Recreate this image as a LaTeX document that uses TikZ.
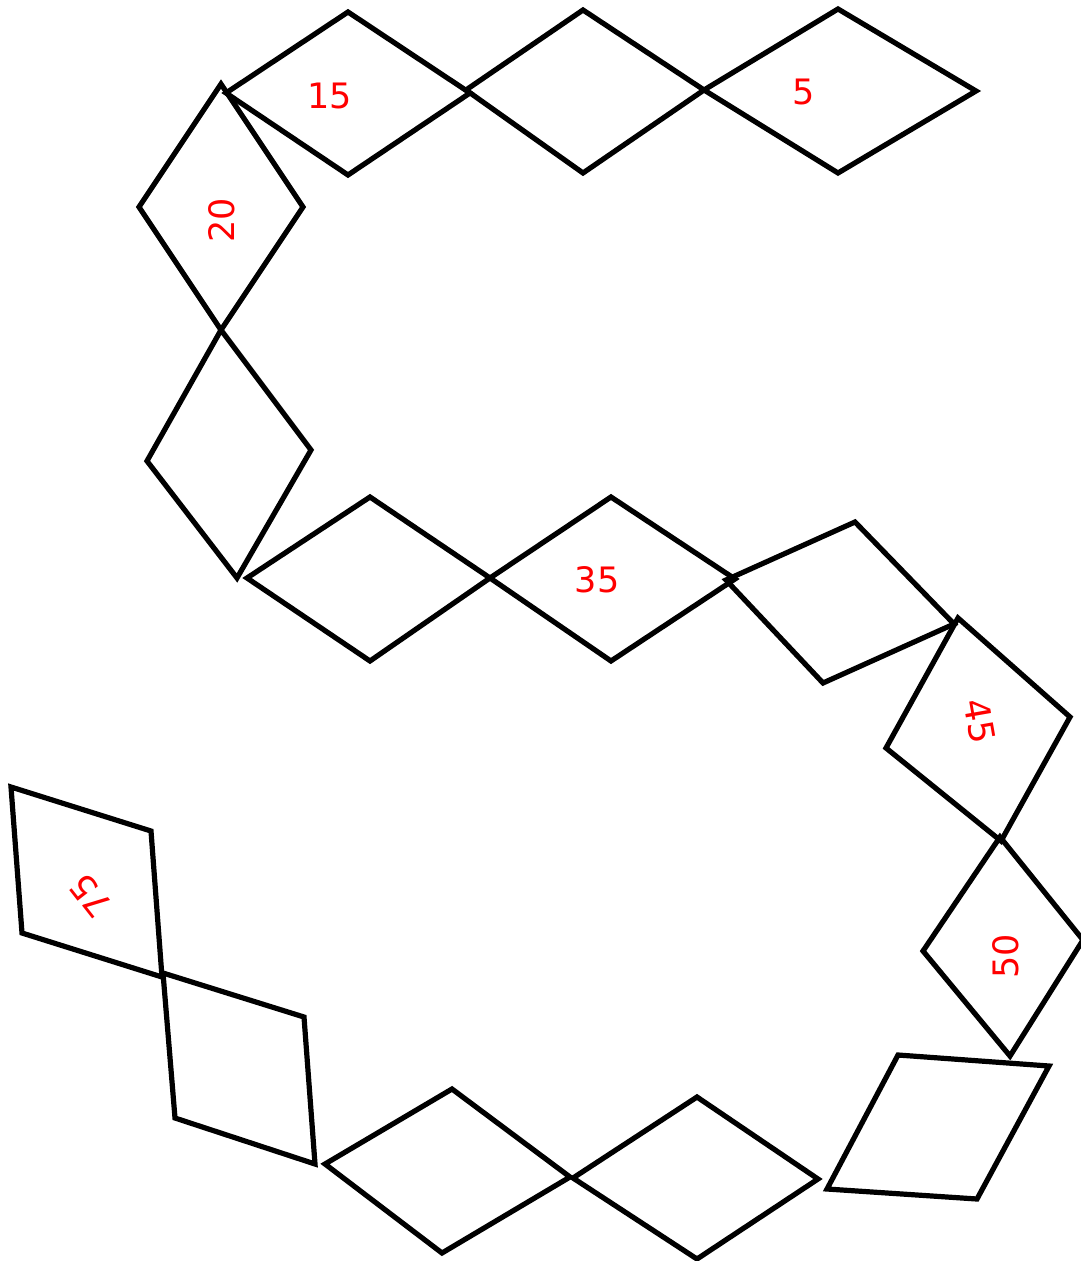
\documentclass[tikz,border=0pt]{standalone}
\usepackage{fontspec}
\setmainfont{DejaVu Sans}
\begin{document}
\begin{tikzpicture}[x=0.5pt,y=-0.5pt,
  tile/.style={draw=black,line width=2.6pt,line join=miter},
  num/.style={text=red,font=\fontsize{17.5}{20}\selectfont,inner sep=0pt}]
\useasboundingbox (0,0) rectangle (1080,1261);
% top row
\draw[tile] (704,90) -- (838,9) -- (976,91) -- (838,173) -- cycle;
\draw[tile] (466,90) -- (583,10) -- (704,90) -- (583,173) -- cycle;
\draw[tile] (226,93) -- (348,12) -- (470,93) -- (348,175) -- cycle;
% left descent
\draw[tile] (221,84) -- (303,207) -- (221,330) -- (139,207) -- cycle;
\draw[tile] (221,330) -- (311,450) -- (237,578) -- (147,461) -- cycle;
% middle row
\draw[tile] (247,578) -- (370,497) -- (490,578) -- (370,661) -- cycle;
\draw[tile] (490,578) -- (611,497) -- (735,579) -- (611,661) -- cycle;
\draw[tile] (726,580) -- (855,522) -- (954,624) -- (823,683) -- cycle;
% right descent
\draw[tile] (958,618) -- (1070,717) -- (1001,841) -- (886,748) -- cycle;
\draw[tile] (1000,837) -- (1083,940) -- (1010,1056) -- (923,951) -- cycle;
\draw[tile] (898,1055) -- (1049,1066) -- (977,1199) -- (827,1189) -- cycle;
% bottom row
\draw[tile] (573,1178) -- (697,1097) -- (818,1179) -- (697,1259) -- cycle;
\draw[tile] (325,1164) -- (452,1089) -- (570,1177) -- (442,1253) -- cycle;
% left ascent
\draw[tile] (163,973) -- (304,1017) -- (315,1164) -- (175,1118) -- cycle;
\draw[tile] (11,787) -- (151,831) -- (162,977) -- (22,933) -- cycle;
% labels
\node[num] (l5) at (804,92) {5};
\node[num] (l15) at (330,96) {15};
\node[num,rotate=90] (l20) at (222,220) {20};
\node[num] (l35) at (597,580) {35};
\node[num,rotate=-80] (l45) at (980,721) {45};
\node[num,rotate=90] (l50) at (1006,956) {50};
\node[num,rotate=128] (l75) at (91,896) {75};
\end{tikzpicture}
\end{document}
